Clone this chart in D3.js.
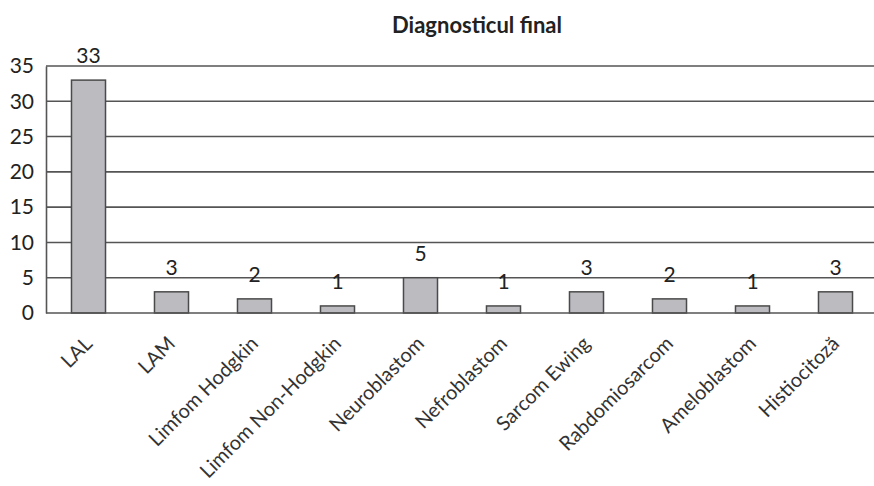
<!DOCTYPE html>
<html><head><meta charset="utf-8">
<script src="https://cdn.jsdelivr.net/npm/d3@7"></script>
<style>body{margin:0;background:#fff}svg{display:block}</style>
</head><body>
<script>
const categories = ["LAL","LAM","Limfom Hodgkin","Limfom Non-Hodgkin","Neuroblastom","Nefroblastom","Sarcom Ewing","Rabdomiosarcom","Ameloblastom","Histiocitoză"];
const values = [33,3,2,1,5,1,3,2,1,3];
const yTicks = [0,5,10,15,20,25,30,35];
const title = "Diagnosticul final";

const W = 874, H = 486;
const svg = d3.select("body").append("svg").attr("width", W).attr("height", H);
const font = "Lato, 'Open Sans', sans-serif";
const x = d3.scaleBand().domain(categories).range([47, 877]).paddingInner(0.59).paddingOuter(0.295);
const y = d3.scaleLinear().domain([0, 35]).range([313, 66]);

svg.append("text").attr("x", 477).attr("y", 33).attr("text-anchor", "middle")
  .attr("font-family", font).attr("font-weight", "bold").attr("font-size", 22).attr("fill", "#222").text(title);

// gridlines
svg.append("g").selectAll("line").data(yTicks.filter(d => d > 0)).join("line")
  .attr("x1", 46).attr("x2", W).attr("y1", d => y(d)).attr("y2", d => y(d))
  .attr("stroke", "#555").attr("stroke-width", 1.6);

// y axis
const yAxis = d3.axisLeft(y).tickValues(yTicks).tickSize(0).tickPadding(12);
const gy = svg.append("g").attr("transform", "translate(46,0)").call(yAxis);
gy.select(".domain").attr("stroke", "#555").attr("stroke-width", 1.6);
gy.selectAll("text").attr("font-family", font).attr("font-size", 21).attr("fill", "#222");

// bars
svg.append("g").selectAll("rect").data(values).join("rect")
  .attr("x", (d, i) => x(categories[i])).attr("width", x.bandwidth())
  .attr("y", d => y(d)).attr("height", d => y(0) - y(d))
  .attr("fill", "#bcbcc0").attr("stroke", "#4a4a4a").attr("stroke-width", 1.5);

// value labels
svg.append("g").selectAll("text").data(values).join("text")
  .attr("x", (d, i) => x(categories[i]) + x.bandwidth() / 2).attr("y", d => y(d) - 17)
  .attr("text-anchor", "middle").attr("font-family", font).attr("font-size", 21).attr("fill", "#222").text(d => d);

// x axis
const xAxis = d3.axisBottom(x).tickSize(0).tickPadding(0);
const gx = svg.append("g").attr("transform", "translate(0,313)").call(xAxis);
gx.select(".domain").attr("d", `M46,0H${W}`).attr("stroke", "#555").attr("stroke-width", 1.6);
gx.selectAll("text").attr("font-family", font).attr("font-size", 20).attr("fill", "#333")
  .attr("text-anchor", "end").attr("dy", "0.35em")
  .attr("transform", "translate(0,27) rotate(-45)");
</script>
</body></html>
